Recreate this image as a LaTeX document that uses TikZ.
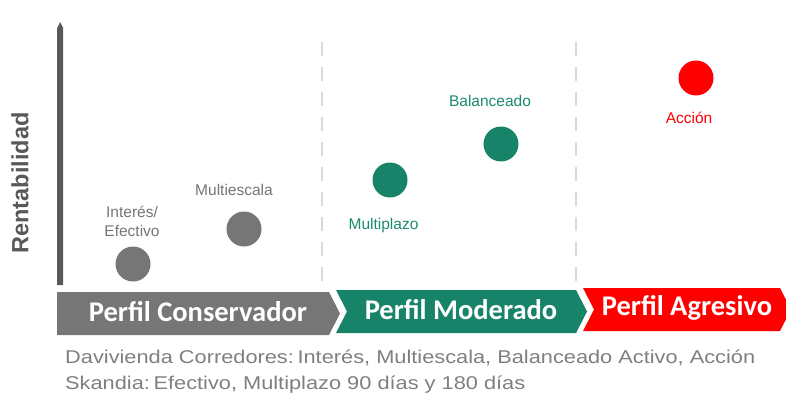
\documentclass[tikz,border=0pt]{standalone}
\usepackage{fontspec}
\setmainfont{Liberation Sans}
\newfontfamily\chevfont{Carlito}
\usepackage{graphicx}
\definecolor{cgray}{HTML}{767676}
\definecolor{lgray}{HTML}{757575}
\definecolor{tgray}{HTML}{7F7F7F}
\definecolor{cgreen}{HTML}{178469}
\definecolor{lgreen}{HTML}{1C8A6E}
\definecolor{cred}{HTML}{FF0000}
\definecolor{axisgray}{HTML}{595959}
\definecolor{dashgray}{HTML}{D9D9D9}
\begin{document}
\begin{tikzpicture}[x=1pt,y=-1pt,
  dot/.style={circle,inner sep=0pt,minimum size=35pt},
  lbl/.style={inner sep=0pt,font=\fontsize{15.5}{19}\selectfont,align=center},
  chevtext/.style={inner sep=0pt,text=white,font=\chevfont\bfseries\fontsize{28.5}{32}\selectfont},
  divider/.style={draw=dashgray,line width=2.8pt,dash pattern=on 14pt off 11pt}]
\useasboundingbox (0,0) rectangle (786,401);
\clip (0,0) rectangle (786,401);
% axis
\fill[axisgray] (57.2,285) -- (57.2,28) -- (60.2,22) -- (63.2,28) -- (63.2,285) -- cycle;
\node[rotate=90,inner sep=0pt,text=axisgray,font=\bfseries\fontsize{23.5}{26}\selectfont] (ylab) at (20,183) {Rentabilidad};
% dividers
\coordinate (d1t) at (322,42); \coordinate (d1b) at (322,290);
\coordinate (d2t) at (576,42); \coordinate (d2b) at (576,290);
\draw[divider] (d1t) -- (d1b);
\draw[divider] (d2t) -- (d2b);
% chevrons
\fill[cgray] (57,292) -- (329,292) -- (340,313.5) -- (329,335) -- (57,335) -- cycle;
\fill[cgreen] (336,290) -- (576,290) -- (587,311.5) -- (576,333) -- (336,333) -- (347,311.5) -- cycle;
\fill[cred] (583,288) -- (780,288) -- (791,309.5) -- (780,331) -- (583,331) -- (594,309.5) -- cycle;
\node[chevtext] (pc) at (198,312) {Perfil Conservador};
\node[chevtext] (pm) at (461,310) {Perfil Moderado};
\node[chevtext] (pa) at (687,307.5) {Perfil Agresivo};
% dots
\node[dot,fill=cgray] (interes) at (133,264) {};
\node[dot,fill=cgray] (multiescala) at (244,229) {};
\node[dot,fill=cgreen] (multiplazo) at (390,180) {};
\node[dot,fill=cgreen] (balanceado) at (501,144) {};
\node[dot,fill=cred] (accion) at (696,78) {};
% labels
\node[lbl,text=lgray] (linteres) at (132,221.5) {Interés/\\Efectivo};
\node[lbl,text=lgray] (lmulti) at (234,190) {Multiescala};
\node[lbl,text=lgreen] (lbal) at (490,101) {Balanceado};
\node[lbl,text=lgreen] (lmplazo) at (383.5,225) {Multiplazo};
\node[lbl,text=cred] (lacc) at (689,118) {Acción};
% bottom text
\node[anchor=north west,inner sep=0pt,text=tgray] (note) at (65,345)
  {\resizebox{690pt}{\height}{\fontsize{18.5}{26}\selectfont\begin{tabular}{@{}l@{}}Davivienda Corredores:\,Interés, Multiescala, Balanceado Activo, Acción\\Skandia:\,Efectivo, Multiplazo 90 días y 180 días\end{tabular}}};
\end{tikzpicture}
\end{document}
